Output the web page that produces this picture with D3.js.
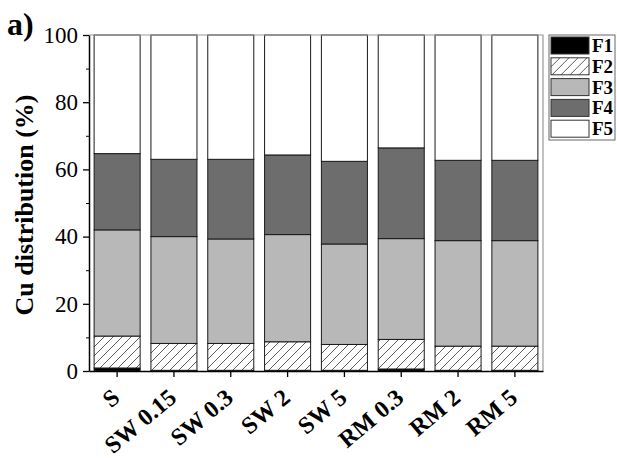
<!DOCTYPE html>
<html>
<head>
<meta charset="utf-8">
<script src="https://cdn.jsdelivr.net/npm/d3@7"></script>
<style>
  html, body { margin: 0; padding: 0; background: #fff; }
  svg { display: block; font-family: "Liberation Serif", "Times New Roman", serif; }
</style>
</head>
<body>
<div id="chart"></div>
<script>
// Daten
const samples = ["S", "SW 0.15", "SW 0.3", "SW 2", "SW 5", "RM 0.3", "RM 2", "RM 5"];
const fractions = ["F1", "F2", "F3", "F4", "F5"];
const f1 = [0.9, 0.2, 0.2, 0.2, 0.2, 0.6, 0.2, 0.2];
const f2 = [9.5, 8.0, 8.0, 8.5, 7.7, 8.8, 7.2, 7.2];
const f3 = [31.6, 31.8, 31.1, 31.9, 29.9, 30.0, 31.4, 31.4];
const f4 = [22.7, 23.0, 23.7, 23.7, 24.6, 27.0, 23.9, 23.9];
const f5 = [35.3, 37.0, 37.0, 35.7, 37.6, 33.6, 37.3, 37.3];
const yTicks = [0, 20, 40, 60, 80, 100];

const series = [f1, f2, f3, f4, f5];
const table = samples.map((s, i) => {
    const row = {sample: s};
    fractions.forEach((f, j) => { row[f] = series[j][i]; });
    return row;
});

const fills = {F1: "#000", F2: "url(#hatch)", F3: "#b8b8b8", F4: "#6d6d6d", F5: "#fff"};

const svg = d3.select("#chart").append("svg")
    .attr("width", 617)
    .attr("height", 458);

// Schraffur fuer F2
const defs = svg.append("defs");
const pat = defs.append("pattern")
    .attr("id", "hatch")
    .attr("patternUnits", "userSpaceOnUse")
    .attr("width", 9)
    .attr("height", 9);
pat.append("rect").attr("width", 9).attr("height", 9).attr("fill", "#fff");
pat.append("path")
    .attr("d", "M-1,10 L10,-1 M-2,2 L2,-2 M7,11 L11,7")
    .attr("stroke", "#333")
    .attr("stroke-width", 0.8);

const m = {left: 89, right: 543, top: 35, bottom: 371};

const x = d3.scaleBand()
    .domain(samples)
    .range([m.left, m.right])
    .paddingInner(0.19)
    .paddingOuter(0.09);

const y = d3.scaleLinear()
    .domain([0, 100])
    .range([m.bottom, m.top]);

const stack = d3.stack().keys(fractions);
const layers = stack(table);

// Balken
svg.append("g")
  .selectAll("g")
  .data(layers)
  .join("g")
    .attr("fill", d => fills[d.key])
  .selectAll("rect")
  .data(d => d)
  .join("rect")
    .attr("x", d => x(d.data.sample))
    .attr("y", d => y(d[1]))
    .attr("width", x.bandwidth())
    .attr("height", d => y(d[0]) - y(d[1]))
    .attr("stroke", "#1a1a1a")
    .attr("stroke-width", 1);

// Rahmen oben/rechts
svg.append("path")
    .attr("d", `M${m.left},${m.top}H${m.right}V${m.bottom}`)
    .attr("fill", "none")
    .attr("stroke", "#999")
    .attr("stroke-width", 1.2);

// y-Achse mit Nebenstrichen
svg.append("g")
    .attr("transform", `translate(${m.left},0)`)
    .call(d3.axisLeft(y).tickValues(d3.range(10, 100, 20)).tickSize(3).tickFormat(""))
    .call(g => g.select(".domain").remove());

svg.append("g")
    .attr("transform", `translate(${m.left},0)`)
    .call(d3.axisLeft(y).tickValues(yTicks).tickSize(6).tickSizeOuter(0).tickPadding(5))
    .call(g => g.select(".domain").attr("stroke-width", 1.5))
    .call(g => g.selectAll("line").attr("stroke-width", 1.3))
    .call(g => g.selectAll("text")
        .attr("font-family", "Liberation Serif")
        .attr("font-size", 23)
        .attr("fill", "#000"));

// x-Achse
svg.append("g")
    .attr("transform", `translate(0,${m.bottom})`)
    .call(d3.axisBottom(x).tickSize(6).tickSizeOuter(0).tickFormat(""))
    .call(g => g.select(".domain").attr("stroke-width", 1.5))
    .call(g => g.selectAll("line").attr("stroke-width", 1.3));

svg.append("g")
  .selectAll("text")
  .data(samples)
  .join("text")
    .attr("transform", d => `translate(${x(d) + x.bandwidth() / 2 + 4},${m.bottom + 29}) rotate(-40)`)
    .attr("text-anchor", "end")
    .attr("font-weight", "bold")
    .attr("font-size", 24)
    .text(d => d);

// Achsentitel
svg.append("text")
    .attr("transform", `translate(33,${(m.top + m.bottom) / 2 + 2}) rotate(-90)`)
    .attr("text-anchor", "middle")
    .attr("font-weight", "bold")
    .attr("font-size", 26)
    .text("Cu distribution (%)");

svg.append("text")
    .attr("x", 7)
    .attr("y", 35)
    .attr("font-weight", "bold")
    .attr("font-size", 32)
    .text("a)");

// Legende
const legend = svg.append("g").attr("transform", "translate(549,35)");
legend.append("rect")
    .attr("width", 66)
    .attr("height", 105)
    .attr("fill", "#fff")
    .attr("stroke", "#666")
    .attr("stroke-width", 1);

const item = legend.selectAll("g.item")
  .data(fractions)
  .join("g")
    .attr("class", "item")
    .attr("transform", (d, i) => `translate(2,${2 + i * 20.8})`);

item.append("rect")
    .attr("width", 38)
    .attr("height", 17)
    .attr("fill", d => fills[d])
    .attr("stroke", "#333")
    .attr("stroke-width", 1);

item.append("text")
    .attr("x", 41)
    .attr("y", 15)
    .attr("font-weight", "bold")
    .attr("font-size", 19)
    .text(d => d);
</script>
</body>
</html>
